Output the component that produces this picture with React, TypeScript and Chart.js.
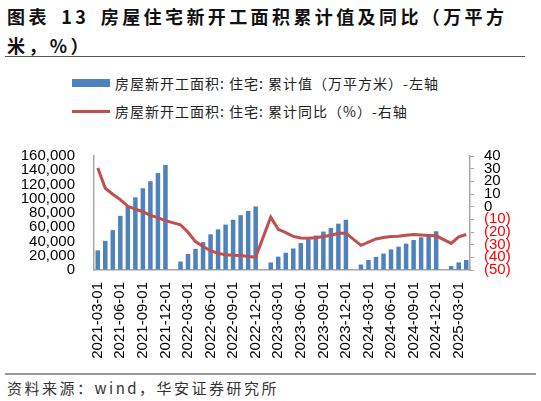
import React, { useEffect, useRef } from 'react'
import { Chart, registerables } from 'chart.js'

Chart.register(...registerables)

// 月份（1月无单独数据，Wind 合并为1-2月）
const months = [
  '2021-03-01', '2021-04-01', '2021-05-01', '2021-06-01', '2021-07-01', '2021-08-01', '2021-09-01', '2021-10-01', '2021-11-01', '2021-12-01',
  '2022-01-01', '2022-02-01', '2022-03-01', '2022-04-01', '2022-05-01', '2022-06-01', '2022-07-01', '2022-08-01', '2022-09-01', '2022-10-01', '2022-11-01', '2022-12-01',
  '2023-01-01', '2023-02-01', '2023-03-01', '2023-04-01', '2023-05-01', '2023-06-01', '2023-07-01', '2023-08-01', '2023-09-01', '2023-10-01', '2023-11-01', '2023-12-01',
  '2024-01-01', '2024-02-01', '2024-03-01', '2024-04-01', '2024-05-01', '2024-06-01', '2024-07-01', '2024-08-01', '2024-09-01', '2024-10-01', '2024-11-01', '2024-12-01',
  '2025-01-01', '2025-02-01', '2025-03-01', '2025-04-01',
]

// 房屋新开工面积: 住宅: 累计值（万平方米）
const areaCum = [
  27500, 40900, 56000, 76000, 89000, 102000, 114700, 124600, 136000, 147500,
  null, 11900, 22500, 29700, 39100, 50100, 57000, 63700, 70500, 76900, 82900, 89200,
  null, 10600, 18700, 24200, 30200, 37800, 43300, 48400, 53900, 59000, 65000, 70500,
  null, 7700, 14000, 18300, 23000, 28900, 32700, 37000, 42100, 45900, 50100, 54400,
  null, 5500, 10600, 14000,
]

// 房屋新开工面积: 住宅: 累计同比（%）
const areaYoY = [
  30.5, 14.5, 9.8, 5.6, 0.3, -2, -4, -6.9, -8.7, -11,
  null, -14.3, -20.2, -27.6, -31.5, -34.8, -36.9, -38, -38.4, -38.5, -39.3, -39.8,
  null, -8.3, -17.9, -20.5, -23.5, -24.7, -24.9, -24.5, -23.5, -22.5, -21, -20.9,
  null, -30.5, -28, -25.5, -24.3, -23.5, -23.3, -22.6, -22, -22.3, -22.7, -23,
  null, -29, -23.8, -22,
]

const barLabel = '房屋新开工面积: 住宅: 累计值（万平方米）-左轴'
const lineLabel = '房屋新开工面积: 住宅: 累计同比（%）-右轴'

const BLUE = '#4F81BD'
const RED = '#C0504D'
const AXIS = '#a6a6a6'

const App: React.FC = () => {
  const canvasRef = useRef<HTMLCanvasElement>(null)
  const chartRef = useRef<Chart | null>(null)

  useEffect(() => {
    if (!canvasRef.current) return
    if (chartRef.current) {
      chartRef.current.destroy()
      chartRef.current = null
    }
    Chart.defaults.font.family = '"Liberation Sans", Arial, sans-serif'

    chartRef.current = new Chart(canvasRef.current, {
      type: 'bar',
      data: {
        labels: months,
        datasets: [
          {
            type: 'line',
            label: lineLabel,
            data: areaYoY,
            yAxisID: 'y1',
            borderColor: RED,
            backgroundColor: RED,
            borderWidth: 3,
            pointRadius: 0,
            tension: 0,
            spanGaps: true,
            order: 0,
          },
          {
            type: 'bar',
            label: barLabel,
            data: areaCum,
            yAxisID: 'y',
            backgroundColor: BLUE,
            barPercentage: 0.6,
            categoryPercentage: 1,
            order: 1,
          },
        ],
      } as any,
      options: {
        responsive: false,
        animation: false,
        layout: { padding: { top: 16, left: 0, right: 0, bottom: 0 } },
        plugins: {
          legend: { display: false },
          tooltip: { enabled: false },
        },
        scales: {
          x: {
            offset: true,
            grid: { display: true, drawOnChartArea: false, drawTicks: false },
            border: { display: true, color: AXIS, width: 1.5 },
            ticks: {
              autoSkip: false,
              maxRotation: 90,
              minRotation: 90,
              padding: 12,
              color: '#000',
              font: { size: 15 },
              callback: (_v: any, i: number) => (i % 3 === 0 ? months[i] : ''),
            },
            afterFit: (s: any) => {
              s.height = 103
            },
          },
          y: {
            position: 'left',
            min: 0,
            max: 160000,
            grid: { display: true, drawOnChartArea: false, drawTicks: false },
            border: { display: true, color: AXIS, width: 1.5 },
            ticks: {
              stepSize: 20000,
              autoSkip: false,
              padding: 19,
              color: '#000',
              font: { size: 15 },
              callback: (v: any) => Number(v).toLocaleString('en-US'),
            },
            afterFit: (s: any) => {
              s.width = 94
            },
          },
          y1: {
            position: 'right',
            min: -50,
            max: 40,
            grid: { display: true, drawOnChartArea: false, drawTicks: true, tickLength: 4, color: AXIS },
            border: { display: true, color: AXIS, width: 1.5 },
            ticks: {
              stepSize: 10,
              autoSkip: false,
              padding: 10,
              font: { size: 15 },
              color: (ctx: any) => (ctx.tick && ctx.tick.value < 0 ? '#ff0000' : '#000'),
              callback: (v: any) => (Number(v) < 0 ? `(${-Number(v)})` : String(v)),
            },
            afterFit: (s: any) => {
              s.width = 71
            },
          },
        },
      } as any,
    })

    return () => {
      if (chartRef.current) {
        chartRef.current.destroy()
        chartRef.current = null
      }
    }
  }, [])

  const cjk = '"Noto Sans CJK SC", "Noto Sans", sans-serif'

  return (
    <div
      style={{
        position: 'absolute',
        left: 0,
        top: 0,
        width: 541,
        height: 401,
        background: '#fff',
        overflow: 'hidden',
        fontFamily: cjk,
      }}
    >
      <div
        style={{
          position: 'absolute',
          left: 7,
          top: 2,
          fontSize: 18,
          fontWeight: 'bold',
          letterSpacing: 3.4,
          wordSpacing: 4,
          lineHeight: '29px',
          color: '#111',
          whiteSpace: 'nowrap',
        }}
      >
        图表 13 房屋住宅新开工面积累计值及同比（万平方
        <br />
        米，%）
      </div>
      <div style={{ position: 'absolute', left: 5, top: 56, width: 520, borderTop: '1.5px solid #555' }} />

      <div style={{ position: 'absolute', left: 72, top: 79, width: 38, height: 8, background: BLUE }} />
      <div
        style={{
          position: 'absolute',
          left: 115,
          top: 73,
          fontSize: 14,
          lineHeight: '20px',
          letterSpacing: 1,
          color: '#222',
          whiteSpace: 'nowrap',
        }}
      >
        {barLabel}
      </div>
      <div style={{ position: 'absolute', left: 72, top: 109.5, width: 38, height: 3, background: RED }} />
      <div
        style={{
          position: 'absolute',
          left: 115,
          top: 101,
          fontSize: 14,
          lineHeight: '20px',
          letterSpacing: 1,
          color: '#222',
          whiteSpace: 'nowrap',
        }}
      >
        {lineLabel}
      </div>

      <canvas
        ref={canvasRef}
        width={541}
        height={245}
        style={{ position: 'absolute', left: 0, top: 128, width: 541, height: 245 }}
      />

      <div style={{ position: 'absolute', left: 5, top: 373, width: 531, borderTop: '2px solid #999' }} />
      <div
        style={{
          position: 'absolute',
          left: 7,
          top: 377,
          fontSize: 15,
          lineHeight: '22px',
          letterSpacing: 2.5,
          color: '#333',
          whiteSpace: 'nowrap',
        }}
      >
        资料来源：wind，华安证券研究所
      </div>
    </div>
  )
}

export default App
